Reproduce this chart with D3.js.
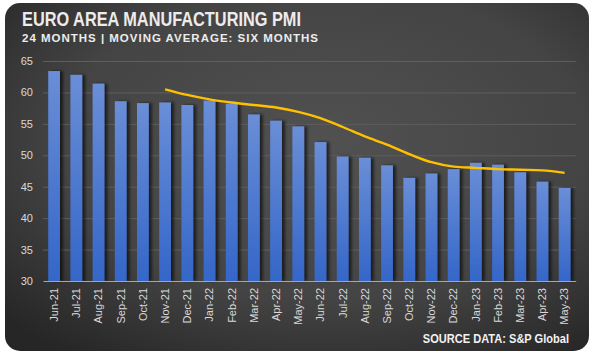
<!DOCTYPE html>
<html><head><meta charset="utf-8">
<script src="https://cdn.jsdelivr.net/npm/d3@7"></script>
<style>html,body{margin:0;padding:0;background:#fff;}svg{display:block;}</style>
</head><body>
<script>
const months = ["Jun-21","Jul-21","Aug-21","Sep-21","Oct-21","Nov-21","Dec-21","Jan-22","Feb-22","Mar-22","Apr-22","May-22","Jun-22","Jul-22","Aug-22","Sep-22","Oct-22","Nov-22","Dec-22","Jan-23","Feb-23","Mar-23","Apr-23","May-23"];
const pmi = [63.4,62.8,61.4,58.6,58.3,58.4,58.0,58.7,58.2,56.5,55.5,54.6,52.1,49.8,49.6,48.4,46.4,47.1,47.8,48.8,48.5,47.3,45.8,44.8];
const movingAvg = [null,null,null,null,null,60.5,59.6,58.9,58.4,58.0,57.6,56.9,55.9,54.5,53.0,51.7,50.2,48.9,48.2,48.0,47.8,47.7,47.6,47.2];
const yTicks = [30,35,40,45,50,55,60,65];
const titleText = "EURO AREA MANUFACTURING PMI";
const subtitleText = "24 MONTHS | MOVING AVERAGE: SIX MONTHS";
const sourceText = "SOURCE DATA: S&P Global";

const W = 593, H = 355;
const svg = d3.select("body").append("svg").attr("width", W).attr("height", H);
const defs = svg.append("defs");

const bg = defs.append("radialGradient").attr("id","bg").attr("cx","0.55").attr("cy","0.4").attr("r","0.75");
bg.append("stop").attr("offset","0%").attr("stop-color","#515151");
bg.append("stop").attr("offset","60%").attr("stop-color","#444444");
bg.append("stop").attr("offset","100%").attr("stop-color","#262626");

const barG = defs.append("linearGradient").attr("id","barg").attr("x1",0).attr("y1",0).attr("x2",0).attr("y2",1);
barG.append("stop").attr("offset","0%").attr("stop-color","#6a8ed7");
barG.append("stop").attr("offset","100%").attr("stop-color","#3466c8");

const sh = defs.append("filter").attr("id","sh").attr("x","-20%").attr("y","-5%").attr("width","160%").attr("height","110%");
sh.append("feDropShadow").attr("dx",3).attr("dy",0).attr("stdDeviation",1.8).attr("flood-color","#000").attr("flood-opacity",0.6);

svg.append("rect").attr("x",5).attr("y",3).attr("width",584).attr("height",348).attr("rx",15).attr("ry",15).attr("fill","url(#bg)");

svg.append("text").attr("x",22).attr("y",26).text(titleText)
  .attr("font-family","Liberation Sans Narrow, Arial Narrow, sans-serif").attr("font-weight","bold")
  .attr("font-size",19.5).attr("fill","#ececec").attr("textLength",279).attr("lengthAdjust","spacingAndGlyphs");
svg.append("text").attr("x",22).attr("y",41.7).text(subtitleText)
  .attr("font-family","Liberation Sans, Arial, sans-serif").attr("font-weight","bold")
  .attr("font-size",11.5).attr("fill","#ececec").attr("textLength",296).attr("lengthAdjust","spacing");

const x = d3.scaleBand().domain(months).range([43,575.7]).paddingInner(0.47).paddingOuter(0.235);
const y = d3.scaleLinear().domain([30,65]).range([281,61]);

svg.append("g").selectAll("line").data(yTicks.filter(t=>t>30)).join("line")
  .attr("x1",43).attr("x2",575.7).attr("y1",d=>y(d)+0.5).attr("y2",d=>y(d)+0.5)
  .attr("stroke","#5e5e5e").attr("stroke-width",1);

const yAxis = d3.axisLeft(y).tickValues(yTicks).tickSize(0).tickPadding(0);
const ya = svg.append("g").attr("transform","translate(33,0)").call(yAxis);
ya.select(".domain").remove();
ya.selectAll("text").attr("font-family","Liberation Sans, Arial, sans-serif").attr("font-size",11).attr("fill","#d9d9d9");

svg.append("g").attr("filter","url(#sh)").selectAll("rect").data(pmi).join("rect")
  .attr("x",(d,i)=>x(months[i])).attr("width",x.bandwidth())
  .attr("y",d=>y(d)).attr("height",d=>y(30)-y(d)).attr("fill","url(#barg)");

const xAxis = d3.axisBottom(x).tickSize(0).tickPadding(0);
const xa = svg.append("g").attr("transform","translate(0,281)").call(xAxis);
xa.select(".domain").attr("stroke","#a6a6a6").attr("stroke-width",1.2);
xa.selectAll("text").attr("font-family","Liberation Sans, Arial, sans-serif").attr("font-size",11).attr("fill","#d9d9d9")
  .attr("transform","rotate(-90)").attr("text-anchor","end").attr("x",-7).attr("y",0).attr("dy","0.35em");

const line = d3.line().defined(d=>d!=null).x((d,i)=>x(months[i])+x.bandwidth()/2).y(d=>y(d)).curve(d3.curveMonotoneX);
svg.append("path").datum(movingAvg).attr("d",line).attr("fill","none").attr("stroke","#ffc000").attr("stroke-width",2.4);

const src = svg.append("g").attr("transform","translate(569,342.7) scale(0.82,1)");
src.append("text").attr("x",0).attr("y",0).attr("text-anchor","end").text(sourceText)
  .attr("font-family","Liberation Sans Narrow, Arial Narrow, sans-serif").attr("font-weight","bold")
  .attr("font-size",13.5).attr("fill","#f2f2f2");
</script>
</body></html>
